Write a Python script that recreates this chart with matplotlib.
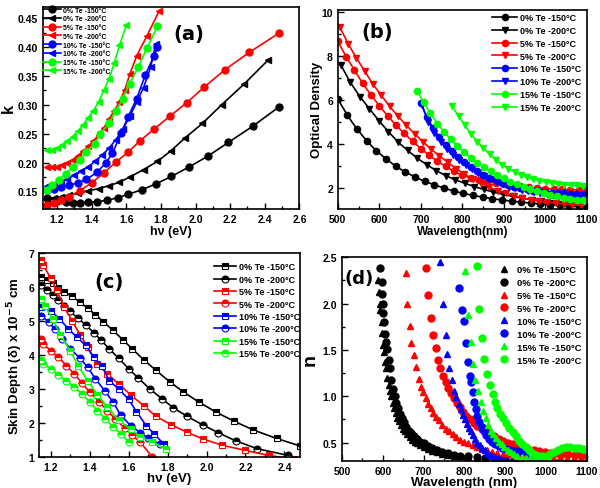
import matplotlib
matplotlib.use('Agg')
import matplotlib.pyplot as plt
from matplotlib.ticker import MultipleLocator

plt.rcParams['font.family'] = ['Liberation Sans', 'DejaVu Sans']
plt.rcParams['font.weight'] = 'bold'
plt.rcParams['axes.labelweight'] = 'bold'
plt.rcParams['axes.linewidth'] = 1.2

LABELS = ['0% Te -150°C', '0% Te -200°C', '5% Te -150°C', '5% Te -200°C',
          '10% Te -150°C', '10% Te -200°C', '15% Te -150°C', '15% Te -200°C']
COLORS = ['black', 'black', 'red', 'red', 'blue', 'blue', '#00ff00', '#00ff00']

# ---- (a) extinction coefficient k vs photon energy
a_x_0_150 = [1.14, 1.2, 1.25, 1.29, 1.33, 1.38, 1.43, 1.49, 1.55, 1.61, 1.69, 1.77, 1.86, 1.96, 2.07, 2.19, 2.33, 2.48]
a_k_0_150 = [0.139, 0.134, 0.131, 0.130, 0.130, 0.131, 0.132, 0.135, 0.139, 0.145, 0.153, 0.163, 0.176, 0.192, 0.211, 0.235, 0.263, 0.296]
a_x_0_200 = [1.14, 1.18, 1.22, 1.27, 1.32, 1.38, 1.44, 1.5, 1.56, 1.62, 1.7, 1.78, 1.86, 1.94, 2.04, 2.15, 2.28, 2.42]
a_k_0_200 = [0.137, 0.139, 0.141, 0.144, 0.147, 0.151, 0.155, 0.160, 0.166, 0.175, 0.188, 0.202, 0.221, 0.243, 0.268, 0.300, 0.336, 0.378]
a_x_5_150 = [1.14, 1.18, 1.22, 1.27, 1.33, 1.4, 1.47, 1.54, 1.61, 1.68, 1.76, 1.85, 1.95, 2.05, 2.17, 2.31, 2.48]
a_k_5_150 = [0.126, 0.13, 0.135, 0.141, 0.151, 0.165, 0.182, 0.201, 0.218, 0.238, 0.258, 0.28, 0.304, 0.331, 0.361, 0.391, 0.424]
a_x_5_200 = [1.14, 1.17, 1.2, 1.23, 1.26, 1.29, 1.32, 1.35, 1.38, 1.41, 1.44, 1.47, 1.5, 1.53, 1.56, 1.59, 1.62, 1.66, 1.72, 1.79]
a_k_5_200 = [0.193, 0.192, 0.193, 0.196, 0.2, 0.205, 0.212, 0.22, 0.228, 0.237, 0.248, 0.26, 0.275, 0.29, 0.305, 0.325, 0.353, 0.385, 0.42, 0.463]
a_x_10_150 = [1.14, 1.18, 1.22, 1.27, 1.32, 1.37, 1.43, 1.48, 1.52, 1.57, 1.61, 1.66, 1.71, 1.76, 1.78]
a_k_10_150 = [0.152, 0.154, 0.157, 0.161, 0.165, 0.171, 0.183, 0.199, 0.216, 0.251, 0.279, 0.311, 0.352, 0.385, 0.40]
a_x_10_200 = [1.14, 1.18, 1.22, 1.26, 1.3, 1.34, 1.38, 1.42, 1.46, 1.5, 1.54, 1.58, 1.62, 1.66, 1.7, 1.74, 1.77]
a_k_10_200 = [0.16, 0.163, 0.167, 0.172, 0.178, 0.185, 0.193, 0.202, 0.213, 0.225, 0.24, 0.258, 0.28, 0.305, 0.33, 0.365, 0.405]
a_x_15_150 = [1.14, 1.17, 1.21, 1.25, 1.29, 1.33, 1.37, 1.42, 1.45, 1.5, 1.54, 1.58, 1.62, 1.67, 1.72, 1.78]
a_k_15_150 = [0.152, 0.161, 0.17, 0.181, 0.192, 0.205, 0.219, 0.233, 0.25, 0.268, 0.29, 0.311, 0.337, 0.366, 0.399, 0.436]
a_x_15_200 = [1.14, 1.17, 1.2, 1.23, 1.26, 1.29, 1.32, 1.35, 1.38, 1.41, 1.44, 1.47, 1.5, 1.53, 1.56, 1.6]
a_k_15_200 = [0.222, 0.222, 0.225, 0.23, 0.237, 0.245, 0.255, 0.265, 0.278, 0.29, 0.305, 0.325, 0.345, 0.372, 0.403, 0.438]

# ---- (b) optical density vs wavelength
b_wl_0_150 = [500, 523, 546, 570, 593, 616, 640, 663, 686, 709, 733, 756, 779, 802, 826, 849, 872, 895, 919, 942, 965, 988, 1012, 1035, 1058, 1081, 1100]
b_od_0_150 = [6.04, 5.3, 4.67, 4.13, 3.67, 3.32, 2.97, 2.71, 2.49, 2.29, 2.13, 1.98, 1.85, 1.74, 1.65, 1.57, 1.5, 1.44, 1.39, 1.34, 1.3, 1.26, 1.22, 1.19, 1.16, 1.13, 1.11]
b_wl_0_200 = [507, 530, 553, 576, 599, 622, 645, 668, 691, 714, 737, 760, 783, 806, 829, 852, 875, 898, 921, 944, 967, 990, 1013, 1036, 1059, 1082]
b_od_0_200 = [7.6, 6.8, 6.15, 5.6, 5.05, 4.55, 4.08, 3.7, 3.35, 3.05, 2.78, 2.55, 2.36, 2.2, 2.05, 1.92, 1.8, 1.7, 1.6, 1.52, 1.45, 1.38, 1.32, 1.27, 1.22, 1.18]
b_wl_5_150 = [500, 520, 540, 560, 580, 600, 620, 640, 660, 680, 700, 720, 740, 760, 780, 800, 820, 840, 860, 880, 900, 920, 940, 960, 980, 1000, 1020, 1040, 1060, 1080, 1100]
b_od_5_150 = [8.66, 7.97, 7.36, 6.75, 6.22, 5.73, 5.27, 4.85, 4.47, 4.12, 3.78, 3.48, 3.2, 2.97, 2.74, 2.56, 2.45, 2.36, 2.28, 2.21, 2.15, 2.1, 2.06, 2.02, 1.99, 1.96, 1.94, 1.92, 1.91, 1.9, 1.89]
b_wl_5_200 = [505, 525, 545, 565, 585, 605, 625, 645, 665, 685, 705, 725, 745, 765, 785, 805, 825, 845, 865, 885, 905, 925, 945, 965, 985, 1005, 1025, 1045, 1065, 1085]
b_od_5_200 = [9.3, 8.55, 7.9, 7.3, 6.7, 6.2, 5.7, 5.25, 4.85, 4.45, 4.1, 3.75, 3.45, 3.15, 2.87, 2.62, 2.4, 2.2, 2.02, 1.87, 1.74, 1.63, 1.54, 1.46, 1.39, 1.34, 1.3, 1.26, 1.23, 1.2]
b_wl_10_150 = [700, 715, 730, 745, 760, 775, 790, 805, 820, 835, 850, 865, 880, 895, 910, 925, 940, 955, 970, 985, 1000, 1015, 1030, 1045, 1060, 1075, 1090]
b_od_10_150 = [5.85, 5.2, 4.7, 4.3, 3.95, 3.65, 3.38, 3.15, 2.95, 2.77, 2.6, 2.46, 2.34, 2.23, 2.13, 2.05, 1.98, 1.92, 1.87, 1.83, 1.8, 1.78, 1.76, 1.74, 1.73, 1.72, 1.71]
b_wl_10_200 = [703, 718, 733, 748, 763, 778, 793, 808, 823, 838, 853, 868, 883, 898, 913, 928, 943, 958, 973, 988, 1003, 1018, 1033, 1048, 1063, 1078, 1093]
b_od_10_200 = [5.75, 5.0, 4.5, 4.1, 3.78, 3.5, 3.25, 3.03, 2.84, 2.67, 2.51, 2.38, 2.26, 2.15, 2.05, 1.97, 1.9, 1.84, 1.79, 1.74, 1.7, 1.67, 1.64, 1.62, 1.6, 1.58, 1.57]
b_wl_15_150 = [691, 707, 723, 740, 756, 772, 788, 804, 820, 836, 852, 868, 884, 900, 916, 932, 948, 964, 980, 996, 1012, 1028, 1044, 1060, 1076, 1092]
b_od_15_150 = [6.4, 5.88, 5.38, 4.92, 4.54, 4.2, 3.9, 3.62, 3.37, 3.14, 2.93, 2.74, 2.57, 2.42, 2.28, 2.15, 2.04, 1.93, 1.84, 1.76, 1.68, 1.61, 1.55, 1.5, 1.46, 1.42]
b_wl_15_200 = [776, 791, 806, 821, 836, 851, 866, 881, 896, 911, 926, 941, 956, 971, 986, 1001, 1016, 1031, 1046, 1061, 1076, 1091]
b_od_15_200 = [5.7, 5.25, 4.85, 4.45, 4.1, 3.8, 3.52, 3.27, 3.05, 2.87, 2.72, 2.59, 2.48, 2.39, 2.32, 2.26, 2.21, 2.17, 2.14, 2.12, 2.1, 2.09]

# ---- (c) skin depth vs photon energy
c_x_0_150 = [1.15, 1.18, 1.21, 1.24, 1.27, 1.31, 1.35, 1.39, 1.43, 1.47, 1.52, 1.57, 1.62, 1.68, 1.74, 1.81, 1.88, 1.96, 2.05, 2.14, 2.24, 2.36, 2.48]
c_d_0_150 = [6.3, 6.2, 6.1, 5.98, 5.86, 5.72, 5.55, 5.37, 5.18, 4.98, 4.72, 4.45, 4.17, 3.85, 3.55, 3.22, 2.92, 2.62, 2.32, 2.06, 1.8, 1.55, 1.33]
c_x_0_200 = [1.15, 1.18, 1.21, 1.24, 1.27, 1.3, 1.34, 1.38, 1.42, 1.46, 1.5, 1.55, 1.6, 1.65, 1.71, 1.77, 1.83, 1.9, 1.98, 2.06, 2.15, 2.26, 2.42]
c_d_0_200 = [6.05, 5.9, 5.75, 5.6, 5.45, 5.28, 5.08, 4.88, 4.66, 4.43, 4.18, 3.9, 3.6, 3.32, 3.0, 2.72, 2.45, 2.2, 1.95, 1.72, 1.48, 1.25, 1.05]
c_x_5_150 = [1.15, 1.16, 1.2, 1.23, 1.27, 1.31, 1.35, 1.39, 1.44, 1.49, 1.55, 1.61, 1.68, 1.74, 1.82, 1.9, 1.98, 2.08, 2.2, 2.32, 2.45]
c_d_5_150 = [6.8, 6.65, 6.26, 5.91, 5.4, 5.0, 4.6, 4.23, 3.74, 3.45, 3.15, 2.83, 2.5, 2.2, 1.95, 1.73, 1.54, 1.35, 1.2, 1.05, 0.95]
c_x_5_200 = [1.15, 1.16, 1.2, 1.24, 1.28, 1.32, 1.36, 1.4, 1.45, 1.49, 1.53, 1.58, 1.62, 1.66, 1.72]
c_d_5_200 = [4.48, 4.33, 4.13, 3.93, 3.69, 3.45, 3.18, 2.91, 2.62, 2.37, 2.13, 1.85, 1.64, 1.44, 1.02]
c_x_10_150 = [1.15, 1.2, 1.245, 1.29, 1.335, 1.38, 1.42, 1.465, 1.5, 1.55, 1.6, 1.64, 1.69, 1.73, 1.78]
c_d_10_150 = [5.42, 5.3, 5.06, 4.77, 4.52, 4.28, 3.94, 3.67, 3.25, 3.0, 2.7, 2.34, 1.93, 1.69, 1.39]
c_x_10_200 = [1.15, 1.19, 1.22, 1.26, 1.3, 1.35, 1.39, 1.43, 1.48, 1.52, 1.56, 1.61, 1.66, 1.7, 1.76]
c_d_10_200 = [5.14, 4.98, 4.75, 4.48, 4.18, 3.91, 3.64, 3.3, 2.93, 2.62, 2.23, 1.93, 1.72, 1.56, 1.38]
c_x_15_150 = [1.15, 1.17, 1.21, 1.25, 1.3, 1.34, 1.39, 1.44, 1.49, 1.55, 1.61, 1.66, 1.72, 1.79]
c_d_15_150 = [5.65, 5.43, 5.06, 4.59, 4.13, 3.69, 3.25, 2.83, 2.47, 2.08, 1.83, 1.59, 1.46, 1.24]
c_x_15_200 = [1.15, 1.16, 1.2, 1.24, 1.28, 1.32, 1.36, 1.4, 1.44, 1.48, 1.52, 1.56, 1.6]
c_d_15_200 = [3.84, 3.74, 3.6, 3.42, 3.25, 3.06, 2.86, 2.62, 2.37, 2.13, 1.88, 1.69, 1.44]

# ---- (d) refractive index n vs wavelength
d_wl_0_150 = [588, 590, 592, 594, 597, 599, 601, 603, 605, 608, 611, 614, 617, 620, 624, 628, 632, 636, 640, 645, 650, 655, 660, 666, 672, 678, 685, 692, 700, 710, 720, 732, 745, 760, 775, 790, 810, 830, 850, 875, 900, 925, 950]
d_n_0_150 = [2.25, 2.12, 2.0, 1.93, 1.8, 1.68, 1.55, 1.48, 1.37, 1.3, 1.2, 1.12, 1.06, 1.0, 0.93, 0.87, 0.82, 0.77, 0.73, 0.69, 0.65, 0.62, 0.59, 0.56, 0.53, 0.51, 0.49, 0.47, 0.45, 0.43, 0.41, 0.395, 0.38, 0.37, 0.36, 0.35, 0.34, 0.335, 0.33, 0.32, 0.315, 0.31, 0.305]
d_wl_0_200 = [594, 597, 599, 600, 601, 603, 605, 608, 611, 614, 617, 621, 625, 629, 633, 637, 642, 647, 652, 658, 664, 670, 677, 684, 692, 700, 710, 720, 732, 745, 760, 775, 790, 810, 830, 850, 875, 900, 925, 950, 975]
d_n_0_200 = [2.38, 2.23, 2.1, 2.0, 1.9, 1.8, 1.67, 1.58, 1.51, 1.39, 1.3, 1.17, 1.08, 1.0, 0.93, 0.87, 0.81, 0.76, 0.72, 0.67, 0.63, 0.6, 0.57, 0.54, 0.51, 0.49, 0.46, 0.44, 0.42, 0.40, 0.385, 0.37, 0.36, 0.35, 0.34, 0.335, 0.325, 0.32, 0.315, 0.31, 0.305]
d_wl_5_150 = [656, 660, 666, 670, 676, 681, 688, 694, 699, 705, 711, 717, 724, 731, 738, 746, 754, 762, 771, 780, 790, 800, 810, 821, 832, 844, 856, 868, 881, 894, 908, 922, 937, 952, 968, 984, 1000, 1017, 1034, 1051, 1068, 1085, 1100]
d_n_5_150 = [2.33, 2.0, 1.76, 1.57, 1.44, 1.31, 1.19, 1.1, 1.05, 0.98, 0.92, 0.87, 0.82, 0.78, 0.74, 0.69, 0.65, 0.62, 0.59, 0.56, 0.53, 0.51, 0.49, 0.47, 0.45, 0.43, 0.415, 0.4, 0.39, 0.38, 0.375, 0.37, 0.365, 0.36, 0.355, 0.35, 0.345, 0.34, 0.34, 0.335, 0.33, 0.33, 0.325]
d_wl_5_200 = [705, 711, 718, 723, 730, 736, 741, 748, 754, 760, 767, 774, 781, 789, 797, 805, 814, 823, 832, 842, 852, 862, 873, 884, 895, 907, 919, 931, 944, 957, 970, 984, 998, 1012, 1026, 1040, 1055, 1070, 1085, 1100]
d_n_5_200 = [2.38, 2.09, 1.84, 1.66, 1.52, 1.39, 1.3, 1.22, 1.15, 1.09, 1.03, 0.98, 0.93, 0.88, 0.83, 0.79, 0.75, 0.71, 0.68, 0.65, 0.62, 0.59, 0.57, 0.54, 0.52, 0.5, 0.48, 0.46, 0.45, 0.43, 0.42, 0.41, 0.40, 0.39, 0.385, 0.38, 0.375, 0.37, 0.365, 0.36]
d_wl_10_150 = [741, 748, 754, 758, 763, 770, 775, 780, 786, 791, 796, 801, 806, 811, 816, 821, 826, 832, 838, 844, 850, 856, 862, 868, 875, 882, 890, 898, 906, 915, 925, 935, 945, 955]
d_n_10_150 = [2.45, 1.99, 1.66, 1.46, 1.3, 1.17, 1.06, 0.99, 0.92, 0.86, 0.8, 0.75, 0.7, 0.66, 0.62, 0.58, 0.54, 0.5, 0.47, 0.44, 0.42, 0.39, 0.37, 0.35, 0.34, 0.33, 0.32, 0.31, 0.305, 0.3, 0.3, 0.3, 0.3, 0.3]
d_wl_10_200 = [787, 794, 799, 803, 808, 813, 817, 820, 824, 828, 832, 837, 842, 848, 854, 861, 868, 876, 884, 893, 902, 912, 922, 932, 942, 952, 962, 972]
d_n_10_200 = [2.17, 1.93, 1.81, 1.57, 1.37, 1.22, 1.15, 1.05, 0.94, 0.86, 0.79, 0.72, 0.67, 0.62, 0.58, 0.54, 0.51, 0.48, 0.46, 0.44, 0.43, 0.42, 0.41, 0.41, 0.41, 0.40, 0.38, 0.35]
d_wl_15_150 = [801, 808, 815, 820, 827, 834, 840, 846, 852, 858, 864, 870, 877, 884, 891, 898, 906, 914, 922, 930, 940, 950, 960, 970, 980, 990, 1000, 1010]
d_n_15_150 = [2.35, 1.88, 1.58, 1.35, 1.18, 1.06, 0.94, 0.84, 0.76, 0.69, 0.63, 0.59, 0.55, 0.51, 0.48, 0.45, 0.42, 0.4, 0.38, 0.36, 0.345, 0.335, 0.33, 0.325, 0.32, 0.315, 0.31, 0.305]
d_wl_15_200 = [830, 836, 842, 849, 856, 863, 869, 875, 881, 888, 895, 902, 910, 918, 926, 934, 942, 950, 958, 966, 975, 984, 993, 1002, 1011, 1020, 1030, 1040, 1050, 1060, 1070, 1080, 1090, 1100]
d_n_15_200 = [2.4, 1.94, 1.63, 1.4, 1.24, 1.12, 1.02, 0.94, 0.87, 0.81, 0.76, 0.71, 0.66, 0.61, 0.57, 0.52, 0.48, 0.45, 0.42, 0.39, 0.37, 0.36, 0.355, 0.36, 0.38, 0.4, 0.42, 0.44, 0.45, 0.45, 0.445, 0.44, 0.43, 0.42]


def style_axis(ax):
    ax.tick_params(which='both', direction='in', labelsize=7.5, width=1)
    ax.tick_params(which='major', length=4)
    ax.tick_params(which='minor', length=2)
    for lab in ax.get_xticklabels() + ax.get_yticklabels():
        lab.set_fontweight('bold')


fig = plt.figure(figsize=(6, 4.89), dpi=100)

# (a)
ax = fig.add_axes([0.072, 0.571, 0.427, 0.413])
a_sets = [(a_x_0_150, a_k_0_150), (a_x_0_200, a_k_0_200), (a_x_5_150, a_k_5_150), (a_x_5_200, a_k_5_200),
          (a_x_10_150, a_k_10_150), (a_x_10_200, a_k_10_200), (a_x_15_150, a_k_15_150), (a_x_15_200, a_k_15_200)]
for i, (xs, ys) in enumerate(a_sets):
    ax.plot(xs, ys, color=COLORS[i], marker='o' if i % 2 == 0 else '<', ms=5, lw=1.2, label=LABELS[i])
ax.set_xlim(1.12, 2.6)
ax.set_ylim(0.12, 0.47)
ax.xaxis.set_major_locator(MultipleLocator(0.2))
ax.xaxis.set_minor_locator(MultipleLocator(0.1))
ax.yaxis.set_major_locator(MultipleLocator(0.05))
ax.yaxis.set_minor_locator(MultipleLocator(0.025))
ax.set_xlabel('hν (eV)', fontsize=9, labelpad=1)
ax.set_ylabel('k', fontsize=12)
ax.yaxis.set_label_coords(-0.105, 0.5)
ax.text(0.57, 0.87, '(a)', transform=ax.transAxes, fontsize=14, fontweight='bold',
        family='DejaVu Sans', ha='center', va='center')
ax.legend(loc='upper left', bbox_to_anchor=(-0.01, 1.015), frameon=False, fontsize=5,
          handlelength=2.6, labelspacing=0.25, handletextpad=0.2, borderaxespad=0)
style_axis(ax)

# (b)
ax = fig.add_axes([0.563, 0.571, 0.415, 0.407])
b_sets = [(b_wl_0_150, b_od_0_150), (b_wl_0_200, b_od_0_200), (b_wl_5_150, b_od_5_150), (b_wl_5_200, b_od_5_200),
          (b_wl_10_150, b_od_10_150), (b_wl_10_200, b_od_10_200), (b_wl_15_150, b_od_15_150), (b_wl_15_200, b_od_15_200)]
for i, (xs, ys) in enumerate(b_sets):
    ax.plot(xs, ys, color=COLORS[i], marker='o' if i % 2 == 0 else 'v', ms=4.5, lw=1.2, label=LABELS[i])
ax.set_xlim(500, 1100)
ax.set_ylim(1.04, 10.1)
ax.xaxis.set_major_locator(MultipleLocator(100))
ax.xaxis.set_minor_locator(MultipleLocator(50))
ax.yaxis.set_major_locator(MultipleLocator(2))
ax.yaxis.set_minor_locator(MultipleLocator(1))
ax.set_xlabel('Wavelength(nm)', fontsize=8.5, labelpad=1)
ax.set_ylabel('Optical Density', fontsize=9.5)
ax.yaxis.set_label_coords(-0.06, 0.5)
ax.text(0.16, 0.89, '(b)', transform=ax.transAxes, fontsize=14, fontweight='bold',
        family='DejaVu Sans', ha='center', va='center')
ax.legend(loc='upper right', bbox_to_anchor=(1.0, 1.01), frameon=False, fontsize=6.5,
          handlelength=2.8, labelspacing=0.42, handletextpad=0.3, borderaxespad=0.2)
style_axis(ax)

# (c)
ax = fig.add_axes([0.065, 0.063, 0.435, 0.418])
c_sets = [(c_x_0_150, c_d_0_150), (c_x_0_200, c_d_0_200), (c_x_5_150, c_d_5_150), (c_x_5_200, c_d_5_200),
          (c_x_10_150, c_d_10_150), (c_x_10_200, c_d_10_200), (c_x_15_150, c_d_15_150), (c_x_15_200, c_d_15_200)]
for i, (xs, ys) in enumerate(c_sets):
    ax.plot(xs, ys, color=COLORS[i], marker='s' if i % 2 == 0 else 'o', ms=5, lw=1.2,
            fillstyle='top', markerfacecoloralt='white', markeredgewidth=0.8, label=LABELS[i])
ax.set_xlim(1.14, 2.48)
ax.set_ylim(1, 7)
ax.xaxis.set_major_locator(MultipleLocator(0.2))
ax.xaxis.set_minor_locator(MultipleLocator(0.1))
ax.yaxis.set_major_locator(MultipleLocator(1))
ax.yaxis.set_minor_locator(MultipleLocator(0.5))
ax.set_xlabel('hν (eV)', fontsize=9.5, labelpad=0)
ax.set_ylabel('Skin Depth (δ) x 10$^{-5}$ cm', fontsize=9.5)
ax.yaxis.set_label_coords(-0.055, 0.5)
ax.text(0.27, 0.86, '(c)', transform=ax.transAxes, fontsize=14, fontweight='bold',
        family='DejaVu Sans', ha='center', va='center')
ax.legend(loc='upper right', bbox_to_anchor=(1.02, 0.98), frameon=False, fontsize=6.5,
          handlelength=2.4, labelspacing=0.38, handletextpad=0.3, borderaxespad=0.2)
style_axis(ax)

# (d)
ax = fig.add_axes([0.570, 0.055, 0.408, 0.417])
d_sets = [(d_wl_0_150, d_n_0_150), (d_wl_0_200, d_n_0_200), (d_wl_5_150, d_n_5_150), (d_wl_5_200, d_n_5_200),
          (d_wl_10_150, d_n_10_150), (d_wl_10_200, d_n_10_200), (d_wl_15_150, d_n_15_150), (d_wl_15_200, d_n_15_200)]
for i, (xs, ys) in enumerate(d_sets):
    ax.plot(xs, ys, color=COLORS[i], marker='^' if i % 2 == 0 else 'o', ms=5,
            linestyle='none', label=LABELS[i])
ax.set_xlim(500, 1100)
ax.set_ylim(0.3, 2.5)
ax.xaxis.set_major_locator(MultipleLocator(100))
ax.xaxis.set_minor_locator(MultipleLocator(50))
ax.yaxis.set_major_locator(MultipleLocator(0.5))
ax.yaxis.set_minor_locator(MultipleLocator(0.25))
ax.set_xlabel('Wavelength (nm)', fontsize=9.5, labelpad=0)
ax.set_ylabel('n', fontsize=14)
ax.yaxis.set_label_coords(-0.095, 0.5)
ax.text(0.07, 0.9, '(d)', transform=ax.transAxes, fontsize=13, fontweight='bold',
        family='DejaVu Sans', ha='center', va='center')
ax.legend(loc='upper right', bbox_to_anchor=(1.0, 0.99), frameon=False, fontsize=6.8,
          handlelength=1.0, labelspacing=0.42, handletextpad=0.8, borderaxespad=0.2)
style_axis(ax)

fig.savefig('out.png', dpi=100)
